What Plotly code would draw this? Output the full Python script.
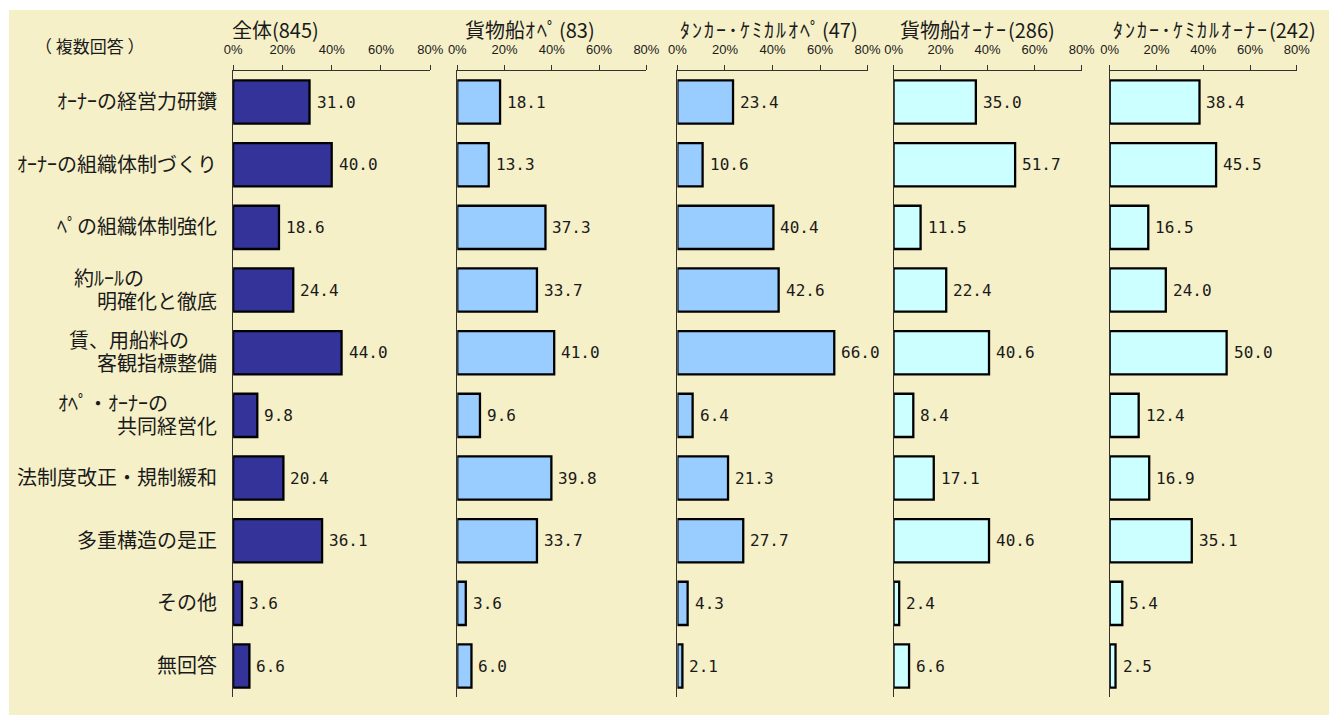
import re
import plotly.graph_objects as go

W, H = 1342, 716

# ---------------- data ----------------
categories = [
    "ｵｰﾅｰの経営力研鑽",
    "ｵｰﾅｰの組織体制づくり",
    "ﾍﾟの組織体制強化",
    "約ﾙｰﾙの\n明確化と徹底",
    "賃、用船料の\n客観指標整備",
    "ｵﾍﾟ・ｵｰﾅｰの\n共同経営化",
    "法制度改正・規制緩和",
    "多重構造の是正",
    "その他",
    "無回答",
]
panel_titles = ["全体(845)", "貨物船ｵﾍﾟ(83)", "ﾀﾝｶｰ･ｹﾐｶﾙｵﾍﾟ(47)",
                "貨物船ｵｰﾅｰ(286)", "ﾀﾝｶｰ･ｹﾐｶﾙｵｰﾅｰ(242)"]
all_resp = [31.0, 40.0, 18.6, 24.4, 44.0, 9.8, 20.4, 36.1, 3.6, 6.6]
cargo_operator = [18.1, 13.3, 37.3, 33.7, 41.0, 9.6, 39.8, 33.7, 3.6, 6.0]
tanker_operator = [23.4, 10.6, 40.4, 42.6, 66.0, 6.4, 21.3, 27.7, 4.3, 2.1]
cargo_owner = [35.0, 51.7, 11.5, 22.4, 40.6, 8.4, 17.1, 40.6, 2.4, 6.6]
tanker_owner = [38.4, 45.5, 16.5, 24.0, 50.0, 12.4, 16.9, 35.1, 5.4, 2.5]
tick_values = [0, 20, 40, 60, 80]
tick_labels = ["0%", "20%", "40%", "60%", "80%"]
note_text = "（ 複数回答 ）"

series = [all_resp, cargo_operator, tanker_operator, cargo_owner, tanker_owner]

# ---------------- styles / layout ----------------
# horizontal frame calibration (reference pixel -> paper fraction)
FX_SCALE, FX_OFF = 0.983, 9.0


def px_x(x):
    return min(1.0, max(0.0, (x - FX_OFF) / FX_SCALE / W))


def px_y(y):
    return 1 - y / H


def widen_kana(s, spacing="2px"):
    # half-width katakana in the titles are drawn a little wider in the original
    return re.sub(r"([\uFF61-\uFF9F]+)",
                  lambda m: f'<span style="letter-spacing:{spacing}">{m.group(1)}</span>', s)


bar_colors = ["#333399", "#99CCFF", "#99CCFF", "#CCFFFF", "#CCFFFF"]
panel_px = [(233, 430), (457, 646), (677, 867), (893, 1081), (1109, 1296)]
title_dx = [-3, 6, 1, 4, 1]
plot_top_px, plot_bottom_px = 70.7, 697.4
bg = "#F5F0C8"
cjk = "Noto Sans CJK JP"
label_font = "Liberation Sans, Noto Sans CJK JP"
mono = "DejaVu Sans Mono"
txt_color = "#1a1a1a"
axis_color = "#333333"
label_right_px = 219
line1_left_px = {3: 72, 4: 67, 5: 56}
line_shift = 11.5

fig = go.Figure()
annotations = []

for i, (vals, color, (x0, x1), title) in enumerate(zip(series, bar_colors, panel_px, panel_titles)):
    n = "" if i == 0 else str(i + 1)
    fig.add_trace(go.Bar(
        x=vals, y=categories, orientation="h",
        marker=dict(color=color, line=dict(color="#000000", width=2.3)),
        xaxis="x" + n, yaxis="y" + n, showlegend=False, hoverinfo="x+y",
    ))
    fig.layout["xaxis" + n] = dict(
        domain=[px_x(x0), px_x(x1)], range=[0, 80], side="top", anchor="y" + n,
        tickmode="array", tickvals=tick_values, ticktext=tick_labels,
        ticks="outside", ticklen=5, tickcolor=axis_color, tickwidth=1,
        showline=True, linecolor=axis_color, linewidth=1,
        showgrid=False, zeroline=False, fixedrange=True,
        tickfont=dict(family="Liberation Sans", size=13, color=txt_color),
        ticklabelstandoff=6,
    )
    fig.layout["yaxis" + n] = dict(
        domain=[px_y(plot_bottom_px), px_y(plot_top_px)],
        type="category", categoryorder="array", categoryarray=categories,
        range=[9.5, -0.5], anchor="x" + n,
        showline=True, linecolor=axis_color, linewidth=1,
        showticklabels=False, ticks="", showgrid=False, zeroline=False,
        fixedrange=True,
    )
    # value labels
    for k, v in enumerate(vals):
        annotations.append(dict(
            x=v, y=k, xref="x" + n, yref="y" + n, text=f"{v:.1f}",
            showarrow=False, xanchor="left", yanchor="middle", xshift=5,
            font=dict(family=mono, size=16, color=txt_color),
        ))
    # panel title
    annotations.append(dict(
        x=px_x(x0 + title_dx[i]), y=px_y(29), xref="paper", yref="paper",
        text=widen_kana(title),
        showarrow=False, xanchor="left", yanchor="middle",
        font=dict(family=cjk, size=20, color=txt_color),
    ))

# category labels
for k, cat in enumerate(categories):
    parts = cat.split("\n")
    if len(parts) == 1:
        annotations.append(dict(
            x=px_x(label_right_px), y=k, xref="paper", yref="y", text=parts[0],
            showarrow=False, xanchor="right", yanchor="middle",
            font=dict(family=label_font, size=20, color=txt_color),
        ))
    else:
        annotations.append(dict(
            x=px_x(line1_left_px[k]), y=k, xref="paper", yref="y", text=parts[0],
            showarrow=False, xanchor="left", yanchor="middle", yshift=line_shift,
            font=dict(family=label_font, size=20, color=txt_color),
        ))
        annotations.append(dict(
            x=px_x(label_right_px), y=k, xref="paper", yref="y", text=parts[1],
            showarrow=False, xanchor="right", yanchor="middle", yshift=-line_shift,
            font=dict(family=label_font, size=20, color=txt_color),
        ))

annotations.append(dict(
    x=px_x(33), y=px_y(45), xref="paper", yref="paper", text=note_text,
    showarrow=False, xanchor="left", yanchor="middle",
    font=dict(family=cjk, size=17, color=txt_color),
))

fig.update_layout(
    width=W, height=H,
    margin=dict(l=0, r=0, t=0, b=0),
    paper_bgcolor="#FFFFFF", plot_bgcolor="rgba(0,0,0,0)",
    bargap=0.31, barmode="group",
    annotations=annotations,
    shapes=[dict(type="rect", xref="paper", yref="paper",
                 x0=px_x(7), x1=px_x(1334), y0=px_y(715), y1=px_y(10),
                 fillcolor=bg, line=dict(width=0), layer="below")],
    showlegend=False,
)

fig.write_html(
    "out.html",
    config={"displayModeBar": False},
    post_script="document.body.style.margin='0';document.body.style.overflow='hidden';",
)
